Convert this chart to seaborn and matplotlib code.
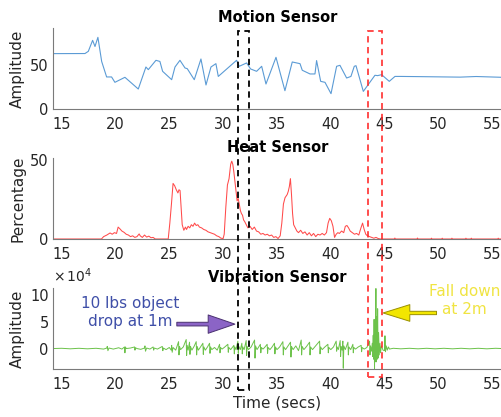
import numpy as np
import pandas as pd
import matplotlib
matplotlib.use("Agg")
import matplotlib.pyplot as plt
import seaborn as sns
from matplotlib.patches import Rectangle
from matplotlib.transforms import blended_transform_factory
from matplotlib.ticker import FuncFormatter

# ---------------- data ----------------
motion_time = [14.2, 17.17, 17.48, 17.88, 18.10, 18.37, 18.72, 19.18, 19.64, 19.95,
               20.88, 22.12, 22.83, 23.05, 23.76, 24.13, 24.38, 25.22, 25.53, 25.99,
               26.46, 26.67, 27.32, 27.94, 28.41, 28.87, 29.33, 29.55, 31.25, 31.50,
               32.18, 32.55, 33.11, 33.58, 33.98, 34.91, 35.74, 36.42, 37.14, 37.35,
               38.07, 38.53, 38.68, 39.06, 39.46, 40.02, 40.54, 40.85, 41.47, 41.87,
               42.18, 42.34, 43.02, 44.10, 44.35, 44.72, 45.43, 45.96, 46.42, 48.0,
               50.0, 52.0, 53.5, 55.9]
motion_amp = [62.9, 63, 65.5, 78, 71, 81.4, 54, 36.4, 36.4, 30.3,
              36, 22.7, 47.7, 44.7, 55.3, 54, 42.8, 33.3, 47.7, 55.3,
              46.6, 45.8, 33.3, 56.8, 27.3, 47.7, 51.5, 37, 55.3, 48.5,
              52.3, 45.5, 42.8, 48.5, 28.4, 58.7, 20.8, 53.4, 51.5, 44,
              39.8, 39.8, 55, 31.4, 30.3, 17.4, 48.5, 49.6, 35.2, 37,
              48.5, 49.2, 20, 38.3, 37.9, 39, 31.4, 37, 37, 36.8,
              36.5, 36.2, 36.9, 36.0]

heat_samples = [
    (14.2, 0), (18.7, 0), (18.9, 1.5), (19.2, 2.5), (19.5, 3.8), (19.7, 3.0), (19.9, 4.0),
    (20.1, 3.5), (20.25, 7.5), (20.4, 6.5), (20.6, 5.0), (20.8, 4.2), (21.0, 3.0), (21.2, 2.5),
    (21.4, 1.5), (21.6, 2.0), (21.8, 1.0), (22.0, 1.5), (22.2, 3.2), (22.3, 2.0), (22.5, 1.0),
    (22.7, 2.5), (22.9, 1.2), (23.1, 1.8), (23.3, 0.8), (23.5, 1.0), (23.7, 0), (24.9, 0),
    (25.05, 10), (25.2, 22), (25.35, 35), (25.5, 33.5), (25.65, 31), (25.8, 29), (25.9, 31),
    (26.0, 30.5), (26.1, 20), (26.2, 9), (26.35, 5.5), (26.5, 7.5), (26.6, 6), (26.75, 8),
    (26.9, 7), (27.05, 9), (27.2, 8), (27.35, 10), (27.5, 8.5), (27.65, 9), (27.8, 7.5),
    (28.0, 7), (28.2, 6), (28.4, 5.5), (28.6, 4.5), (28.8, 4), (29.0, 3.5), (29.2, 3),
    (29.4, 2), (29.6, 1.5), (29.8, 0.5), (30.0, 0.3), (30.1, 3), (30.25, 20), (30.4, 34),
    (30.55, 38), (30.7, 47), (30.8, 49), (30.9, 47), (31.0, 42), (31.1, 36), (31.2, 30),
    (31.3, 24), (31.4, 25.5), (31.5, 22), (31.6, 18), (31.7, 16), (31.8, 15), (31.9, 12),
    (32.0, 11), (32.15, 9), (32.3, 7), (32.5, 8), (32.7, 6), (32.9, 7.5), (33.1, 5),
    (33.3, 4.5), (33.5, 3), (33.7, 3.5), (33.9, 2.5), (34.1, 3), (34.3, 2), (34.5, 2.5),
    (34.7, 1), (34.9, 1.5), (35.1, 0.3), (35.3, 2), (35.45, 10), (35.6, 22), (35.75, 26),
    (35.85, 27), (35.95, 28), (36.05, 30), (36.15, 33), (36.25, 38), (36.35, 28), (36.45, 16),
    (36.55, 9), (36.7, 7), (36.85, 5), (37.0, 4), (37.2, 5.5), (37.4, 3.5), (37.6, 4.5),
    (37.8, 2.5), (38.0, 4), (38.2, 2), (38.4, 3.5), (38.6, 1.5), (38.8, 3), (39.0, 2.5),
    (39.2, 3.5), (39.4, 2.5), (39.6, 4), (39.75, 10), (39.9, 13), (40.05, 11.5), (40.2, 8),
    (40.35, 1), (40.5, 3), (40.65, 4), (40.8, 3.5), (41.0, 5), (41.2, 4), (41.35, 8),
    (41.5, 8.5), (41.65, 7), (41.8, 5), (42.0, 4), (42.2, 3), (42.4, 3.5), (42.6, 2.5),
    (42.8, 7), (42.95, 10), (43.1, 6), (43.25, 3), (43.4, 2), (43.6, 1.5), (43.8, 1),
    (44.0, 0.5), (44.2, 1), (44.4, 0.3), (44.6, 0), (45.9, 0), (45.95, 0.6), (46.0, 0),
    (48.0, 0), (48.05, 0.6), (48.1, 0), (49.3, 0), (49.35, 0.5), (49.4, 0), (50.3, 0),
    (50.35, 0.5), (50.4, 0), (51.2, 0), (51.25, 0.5), (51.3, 0), (52.5, 0), (52.55, 0.5),
    (52.6, 0), (53.0, 0), (53.05, 0.5), (53.1, 0), (55.5, 0), (55.55, 0.5), (55.6, 0),
    (55.9, 0),
]

# vibration amplitude in units of 1e4
vib_samples = [
    (14.2, 0), (15.0, 0.05), (15.8, -0.05), (16.6, 0.05), (17.4, -0.05), (18.2, 0.05), (18.9, -0.1),
    (19.2, 0.1), (19.24, 0.4), (19.3, -0.4), (19.4, 0.1),
    (19.8, -0.1), (20.3, 0.15), (20.6, -0.1),
    (20.84, 0.3), (20.88, -0.8), (20.93, 0.3), (21.0, 0),
    (21.4, 0.1), (21.78, 0.3), (21.81, -0.3), (21.86, 0.15), (22.0, 0),
    (22.35, -0.15), (22.7, 0.1), (22.74, 0.5), (22.79, -0.5), (22.9, 0.1),
    (23.2, -0.1), (23.5, 0.3), (23.55, -0.3), (23.6, 0.1),
    (23.9, -0.1), (24.35, 0.4), (24.4, -0.4), (24.45, 0.1),
    (24.7, -0.2), (25.0, 0.2), (25.18, -0.3), (25.22, 0.6), (25.27, -0.7), (25.35, 0.2),
    (25.6, -0.3), (25.86, 1.3), (25.9, -1.2), (25.95, 0.4), (26.05, -0.2),
    (26.3, 0.3), (26.57, 1.7), (26.61, -1.3), (26.66, 0.6), (26.75, -0.3),
    (26.88, 1.2), (26.92, -1.1), (26.97, 0.4), (27.1, -0.3),
    (27.3, 0.4), (27.5, 1.3), (27.54, -1.2), (27.59, 0.4), (27.7, -0.3),
    (27.9, 0.3), (28.12, 1.0), (28.16, -1.1), (28.21, 0.3), (28.35, -0.3),
    (28.55, 0.3), (28.74, 1.0), (28.78, -0.9), (28.83, 0.3), (28.95, -0.2),
    (29.2, 0.2), (29.45, -0.3), (29.67, 0.8), (29.71, -0.8), (29.76, 0.2), (29.9, -0.1),
    (30.1, 0.2), (30.44, 0.8), (30.48, -0.7), (30.53, 0.2), (30.7, -0.2),
    (31.0, 0.6), (31.04, -1.0), (31.09, 0.3), (31.2, -0.2),
    (31.37, 1.4), (31.41, -0.9), (31.46, 0.4), (31.6, -0.2),
    (31.74, 1.0), (31.78, -1.0), (31.83, 0.3), (31.95, -0.2),
    (32.14, 1.5), (32.18, -1.3), (32.23, 0.4), (32.35, -0.2),
    (32.6, 0.3), (32.92, 1.6), (32.96, -1.8), (33.01, 0.5), (33.15, -0.2),
    (33.3, 0.3), (33.46, 0.8), (33.5, -0.8), (33.55, 0.2), (33.7, -0.1),
    (33.85, 0.2), (34.09, 0.8), (34.13, -0.9), (34.18, 0.2), (34.35, -0.2),
    (34.55, 0.3), (34.77, 1.0), (34.81, -1.0), (34.86, 0.3), (35.0, -0.2),
    (35.25, 0.3), (35.55, 1.3), (35.59, -1.2), (35.64, 0.3), (35.8, -0.2),
    (36.0, 0.4), (36.26, 1.2), (36.3, -1.6), (36.35, 0.4), (36.5, -0.2),
    (36.75, 0.5), (37.0, -0.4), (37.25, 1.6), (37.29, -1.2), (37.34, 0.4), (37.5, -0.2),
    (37.75, 0.4), (38.03, 1.2), (38.07, -1.2), (38.12, 0.3), (38.3, -0.2),
    (38.55, 0.4), (38.96, 1.4), (39.0, -1.0), (39.05, 0.3), (39.2, -0.2),
    (39.45, 0.3), (39.73, 0.8), (39.77, -0.8), (39.82, 0.2), (40.0, -0.2),
    (40.25, 0.3), (40.5, 1.4), (40.54, -0.5), (40.59, 0.3), (40.7, -0.2),
    (40.87, 1.5), (40.91, -1.5), (40.96, 0.4), (41.05, -0.3),
    (41.12, 1.4), (41.16, -3.7), (41.21, 0.5), (41.35, -0.2),
    (41.59, 1.2), (41.63, -1.2), (41.68, 0.3), (41.85, -0.2),
    (42.05, 0.8), (42.09, -0.8), (42.14, 0.2), (42.3, -0.1),
    (42.55, 0.3), (42.82, 0.6), (42.86, -0.6), (42.91, 0.2), (43.1, -0.1),
    (43.35, 0.2), (43.6, 1.4), (43.64, -1.2), (43.69, 0.5), (43.78, -0.5),
    (43.85, 1.0), (43.89, -1.5), (43.94, 2.5), (43.98, -2.0),
    (44.02, 5.5), (44.06, -3.8), (44.1, 3.0), (44.14, -2.5), (44.19, 11.3), (44.23, -2.5),
    (44.27, 6.0), (44.31, -2.0), (44.35, 7.5), (44.39, -1.8), (44.44, 3.0), (44.5, -1.2),
    (44.57, 1.0), (44.62, -0.8), (44.7, 0.5),
    (44.85, -0.3), (44.99, -0.4), (45.03, 2.4), (45.08, -0.6), (45.15, 0.5), (45.25, -0.3),
    (45.35, 0.3), (45.45, -0.1),
    (45.8, 0.05), (46.5, -0.05), (47.3, 0.05), (48.1, -0.05), (48.9, 0.05), (49.7, -0.05),
    (50.5, 0.05), (51.3, -0.05), (52.1, 0.05), (52.9, -0.05), (53.7, 0.05), (54.5, -0.05),
    (55.3, 0.05), (55.9, 0),
]

x_ticks = [15, 20, 25, 30, 35, 40, 45, 50, 55]
titles = ["Motion Sensor", "Heat Sensor", "Vibration Sensor"]
ylabels = ["Amplitude", "Percentage", "Amplitude"]
drop_box = (31.34, 32.39)
fall_box = (43.47, 44.77)
drop_text = "10 lbs object\ndrop at 1m"
fall_text = "Fall down\nat 2m"

# ---------------- frames ----------------
motion_df = pd.DataFrame({"t": motion_time, "v": motion_amp})
heat_df = pd.DataFrame(heat_samples, columns=["t", "v"])
vib_df = pd.DataFrame(vib_samples, columns=["t", "v"])
vib_df["v"] = vib_df["v"] * 1e4

# ---------------- style ----------------
sns.set_theme(style="white")
plt.rcParams["font.family"] = ["DejaVu Sans"]

W, H = 502, 417
fig = plt.figure(figsize=(W / 100, H / 100), dpi=100)

def fx(px):
    return px / W

def fy(py):
    return 1 - py / H

left = fx(53)
width = 1 - left
axes = []
for top, bot in [(28, 109), (158, 239), (288, 369)]:
    ax = fig.add_axes([left, fy(bot), width, (bot - top) / H])
    axes.append(ax)
ax1, ax2, ax3 = axes

sns.lineplot(data=motion_df, x="t", y="v", ax=ax1, color="#5b9bd5",
             linewidth=0.8, estimator=None, sort=False)
sns.lineplot(data=heat_df, x="t", y="v", ax=ax2, color="#ff4a4a",
             linewidth=0.75, estimator=None, sort=False)
sns.lineplot(data=vib_df, x="t", y="v", ax=ax3, color="#6cc24a",
             linewidth=0.7, estimator=None, sort=False)

xlim = (14.2, 55.9)
ylims = [(0, 92), (0, 51), (-3.85e4, 11.4e4)]
yticks = [[0, 50], [0, 50], [0, 5e4, 10e4]]
for ax, title, yl, ylim, yt in zip(axes, titles, ylabels, ylims, yticks):
    ax.set_xlim(*xlim)
    ax.set_ylim(*ylim)
    ax.set_xticks(x_ticks)
    ax.set_yticks(yt)
    ax.set_title(title, fontsize=10.5, fontweight="bold", pad=4, color="black")
    ax.set_xlabel("")
    ax.set_ylabel(yl, fontsize=11, color="#262626")
    ax.yaxis.set_label_coords(-0.062, 0.5)
    for s in ["top", "right"]:
        ax.spines[s].set_visible(False)
    for s in ["left", "bottom"]:
        ax.spines[s].set_color("#7a7a7a")
        ax.spines[s].set_linewidth(0.8)
    ax.tick_params(direction="in", length=3.5, width=0.7, color="#7a7a7a",
                   labelsize=10.5, labelcolor="#262626")
    ax.tick_params(axis="x", pad=6)
    ax.tick_params(axis="y", pad=3)

ax3.yaxis.set_major_formatter(FuncFormatter(lambda v, p: f"{v / 1e4:g}"))
ax3.text(0.0, 1.04, r"$\times\,10^4$", transform=ax3.transAxes, fontsize=10,
         color="#262626", ha="left", va="bottom")
ax3.set_xlabel("Time (secs)", fontsize=11, color="#262626")
ax3.xaxis.set_label_coords(0.5, -0.33)

# annotations
ax3.text(21.34, 6.7e4, drop_text, color="#3f4fa8", fontsize=11, ha="center",
         va="center", linespacing=1.25)
ax3.annotate("", xy=(31.09, 4.6e4), xytext=(25.7, 4.6e4),
             arrowprops=dict(arrowstyle="simple,head_length=1.6,head_width=1.1,tail_width=0.22",
                             fc="#8b64c6", ec="#4a3070", lw=0.7, shrinkA=0, shrinkB=0))
ax3.text(52.45, 9.1e4, fall_text, color="#f0e442", fontsize=11, ha="center",
         va="center", linespacing=1.25, clip_on=False)
ax3.annotate("", xy=(44.86, 6.7e4), xytext=(49.82, 6.7e4),
             arrowprops=dict(arrowstyle="simple,head_length=1.6,head_width=1.0,tail_width=0.2",
                             fc="#f2e600", ec="#9a9000", lw=0.7, shrinkA=0, shrinkB=0))

# highlight boxes across all panels
trans = blended_transform_factory(ax3.transData, fig.transFigure)
box_black = Rectangle((drop_box[0], fy(390)), drop_box[1] - drop_box[0], fy(30.7) - fy(390),
                      transform=trans, fill=False, ec="black", lw=1.3,
                      ls=(0, (3.5, 2.5)), zorder=10)
box_red = Rectangle((fall_box[0], fy(376.7)), fall_box[1] - fall_box[0], fy(31) - fy(376.7),
                    transform=trans, fill=False, ec="#ff2a2a", lw=1.3,
                    ls=(0, (3.5, 2.5)), zorder=10, alpha=0.9)
fig.add_artist(box_black)
fig.add_artist(box_red)

fig.savefig("out.png", dpi=100)
